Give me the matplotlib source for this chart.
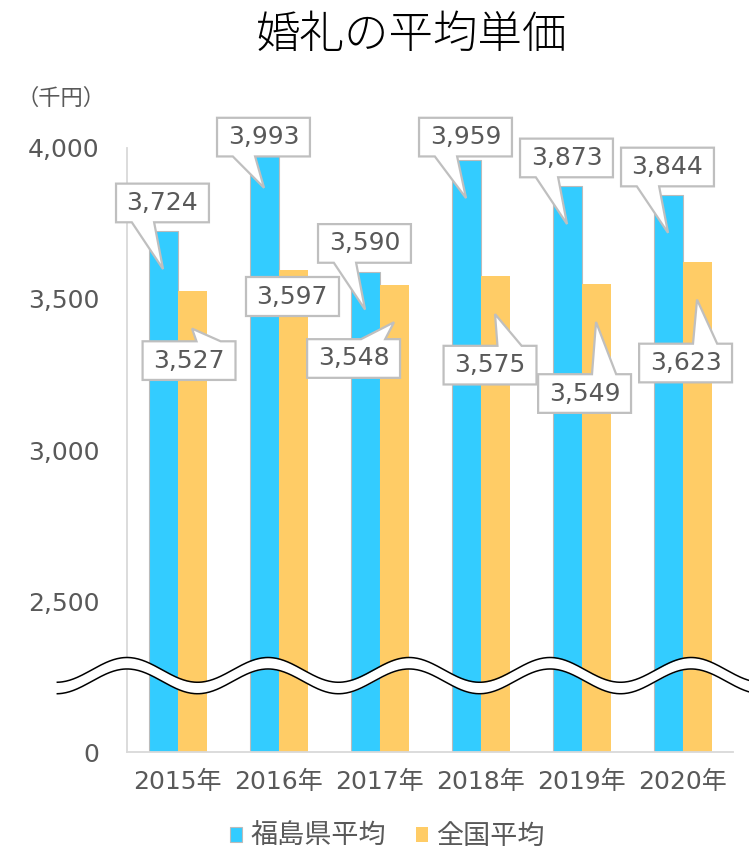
import numpy as np
import matplotlib.pyplot as plt
from matplotlib.patches import Polygon

plt.rcParams['font.family'] = ['DejaVu Sans', 'Noto Sans CJK JP']

# data
years = ['2015年', '2016年', '2017年', '2018年', '2019年', '2020年']
fukushima = [3724, 3993, 3590, 3959, 3873, 3844]
national = [3527, 3597, 3548, 3575, 3549, 3623]
y_ticks = [2000, 2500, 3000, 3500, 4000]
y_tick_labels = ['0', '2,500', '3,000', '3,500', '4,000']

# label placement (box centre offset in x, box centre y)
blue_dx = -0.149
blue_box_y = [3818, 4036, 3684, 4036, 3967, 3937]
orange_dx = [0.114, 0.134, -0.257, 0.094, 0.03, 0.03]
orange_box_y = [3296, 3508, 3303, 3281, 3187, 3288]
orange_has_tip = [True, False, True, True, True, True]

BLUE = '#33CCFF'
ORANGE = '#FFCC66'
GRAY = '#595959'
EDGE = '#BFBFBF'

fig = plt.figure(figsize=(7.49, 8.51), dpi=100)
ax = fig.add_axes([0.1696, 0.1163, 0.8091, 0.7098])

x = np.arange(len(years))
w = 0.287
b1 = ax.bar(x - w / 2, fukushima, w, color=BLUE, edgecolor='#BBBBBB', linewidth=0.8,
            label='福島県平均', zorder=2)
b2 = ax.bar(x + w / 2, national, w, color=ORANGE, linewidth=0, label='全国平均', zorder=2)

ax.set_xlim(-0.5, 5.5)
ax.set_ylim(2000, 4000)
ax.set_yticks(y_ticks)
ax.set_yticklabels(y_tick_labels)
ax.set_xticks(x)
ax.set_xticklabels(years)
ax.tick_params(length=0, labelsize=18, labelcolor=GRAY)
ax.tick_params(axis='y', pad=20)
ax.tick_params(axis='x', pad=13)
for s in ['top', 'right']:
    ax.spines[s].set_visible(False)
for s in ['left', 'bottom']:
    ax.spines[s].set_color('#D9D9D9')
    ax.spines[s].set_linewidth(1.3)


def callout(cx, cy, tx, ty, text, up):
    hw, hh = 0.46, 64
    l, r, b, t = cx - hw, cx + hw, cy - hh, cy + hh
    if ty is None:
        pts = [(l, b), (l, t), (r, t), (r, b)]
    elif up:
        f1, f2 = l + 0.58 * 2 * hw, l + 0.84 * 2 * hw
        pts = [(l, b), (l, t), (f1, t), (tx, ty), (f2, t), (r, t), (r, b)]
    else:
        f1, f2 = l + 0.17 * 2 * hw, l + 0.41 * 2 * hw
        pts = [(l, t), (r, t), (r, b), (f2, b), (tx, ty), (f1, b), (l, b)]
    ax.add_patch(Polygon(pts, closed=True, facecolor='white', edgecolor=EDGE,
                         linewidth=1.6, zorder=6, clip_on=False))
    ax.text(cx, cy, text, ha='center', va='center', fontsize=18, color=GRAY,
            zorder=7, clip_on=False)


for i in range(len(years)):
    callout(x[i] + blue_dx, blue_box_y[i], x[i] - w / 2, fukushima[i] - 125,
            f'{fukushima[i]:,}', up=False)
    tip = national[i] - 125 if orange_has_tip[i] else None
    callout(x[i] + orange_dx[i], orange_box_y[i], x[i] + w / 2, tip,
            f'{national[i]:,}', up=True)

# axis break wave
xs = np.linspace(-1.19, 6.2, 600)
period = 1.396
upper = 2272 + 41 * np.cos(2 * np.pi * (xs + 0.5) / period)
lower = upper - 38
ax.fill_between(xs, lower, upper, color='white', zorder=5, clip_on=False, linewidth=0)
ax.plot(xs, upper, color='black', lw=1.1, zorder=5, clip_on=False)
ax.plot(xs, lower, color='black', lw=1.1, zorder=5, clip_on=False)

fig.text(0.549, 0.958, '婚礼の平均単価', fontsize=32, ha='center', va='center',
         family='Noto Sans CJK JP', fontweight='light', color='black')
fig.text(0.082, 1 - 98 / 851, '（千円）', fontsize=16, ha='center', va='center',
         family='Noto Sans CJK JP', color=GRAY)

leg = fig.legend(handles=[b1, b2], loc='center', bbox_to_anchor=(0.517, 1 - 837 / 851),
                 ncol=2, frameon=False, fontsize=19.5, handlelength=0.45, handleheight=0.45,
                 handletextpad=0.3, columnspacing=1.1)
for t in leg.get_texts():
    t.set_color(GRAY)

fig.savefig('out.png', dpi=100)
